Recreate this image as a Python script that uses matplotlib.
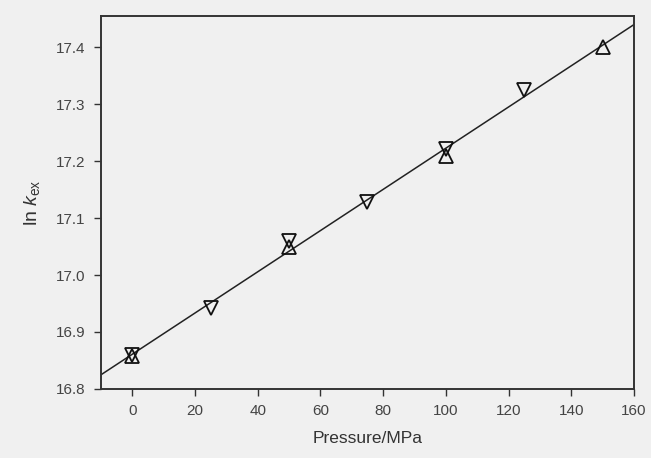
import matplotlib.pyplot as plt
import numpy as np

# datos
p_down = np.array([0, 25, 50, 75, 100, 125])
lnk_down = np.array([16.860, 16.942, 17.060, 17.128, 17.221, 17.325])
p_up = np.array([0, 50, 100, 150])
lnk_up = np.array([16.858, 17.049, 17.209, 17.400])

xticks = [0, 20, 40, 60, 80, 100, 120, 140, 160]
yticks = [16.8, 16.9, 17.0, 17.1, 17.2, 17.3, 17.4]

plt.rcParams['font.family'] = ['Liberation Sans', 'DejaVu Sans']
plt.rcParams['mathtext.fontset'] = 'custom'
plt.rcParams['mathtext.it'] = 'Liberation Sans:italic'
plt.rcParams['mathtext.rm'] = 'Liberation Sans'

fig = plt.figure(figsize=(6.51, 4.58), dpi=100, facecolor='#f0f0f0')
ax = fig.add_axes([0.155, 0.151, 0.819, 0.814], facecolor='#f0f0f0')

# recta de ajuste
p_all = np.concatenate([p_down, p_up])
lnk_all = np.concatenate([lnk_down, lnk_up])
m, b = np.polyfit(p_all, lnk_all, 1)
xl = np.array([-10, 160])
ax.plot(xl, m * xl + b, color='#222222', lw=1.1, zorder=2)

ax.plot(p_down, lnk_down, linestyle='none', marker='v', markersize=9.5,
        markerfacecolor='none', markeredgecolor='#111111', markeredgewidth=1.3, zorder=3)
ax.plot(p_up, lnk_up, linestyle='none', marker='^', markersize=9.5,
        markerfacecolor='none', markeredgecolor='#111111', markeredgewidth=1.3, zorder=3)

ax.set_xlim(-10, 160)
ax.set_ylim(16.8, 17.455)
ax.set_xticks(xticks)
ax.set_yticks(yticks)
ax.set_yticklabels(['%.1f' % v for v in yticks])

for s in ax.spines.values():
    s.set_color('#333333')
    s.set_linewidth(1.4)

ax.tick_params(direction='out', length=5, width=1, colors='#333333',
               labelcolor='#444444', labelsize=11, pad=6)

ax.set_xlabel('Pressure/MPa', fontsize=12.5, color='#333333', labelpad=9)
ax.set_ylabel(r'ln $k_{\mathrm{ex}}$', fontsize=14, color='#333333', labelpad=10)

fig.savefig('out.png', dpi=100, facecolor=fig.get_facecolor())
